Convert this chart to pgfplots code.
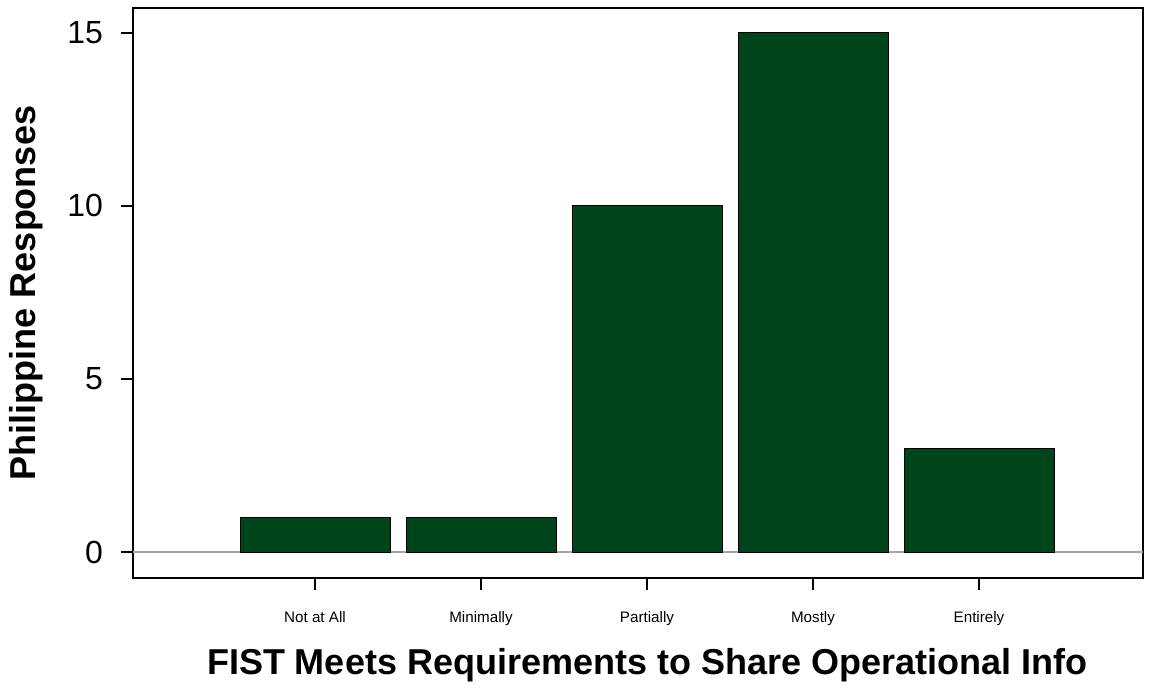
\documentclass[border=0pt]{standalone}
\usepackage{pgfplots}
\pgfplotsset{compat=1.18}
\usepackage{fontspec}
\setmainfont{Liberation Sans}
\definecolor{bargreen}{HTML}{00441B}
\begin{document}
\begin{tikzpicture}
\begin{axis}[
  name=ax,
  width=505pt, height=285pt, scale only axis,
  xmin=-1.0964, xmax=4.988,
  ymin=-0.751, ymax=15.72,
  ybar, bar width=0.9036,
  axis line style={line width=1pt},
  xtick={0,1,2,3,4},
  xticklabels={Not at All,Minimally,Partially,Mostly,Entirely},
  ytick={0,5,10,15},
  xtick pos=lower, ytick pos=left,
  tick align=outside,
  major tick length=6pt,
  tick style={line width=1pt, black},
  /pgf/number format/assume math mode=true,
  x tick label style={font=\fontsize{7.6}{9}\selectfont, yshift=-7pt},
  y tick label style={font=\fontsize{16}{18}\selectfont, xshift=-5.5pt},
  xlabel={FIST Meets Requirements to Share Operational Info},
  ylabel={Philippine Responses},
  xlabel style={font=\fontsize{18}{21}\selectfont\bfseries,
    at={(axis description cs:0.509,-0.170)}, anchor=base},
  ylabel style={font=\fontsize{18}{21}\selectfont\bfseries,
    at={(axis description cs:-0.106,0.5)}, anchor=center},
]
\draw[gray!70, line width=0.6pt] ({rel axis cs:0,0}|-{axis cs:0,0}) -- ({rel axis cs:1,0}|-{axis cs:0,0});
\addplot[fill=bargreen, draw=black, line width=0.5pt] coordinates {
  (0,1) (1,1) (2,10) (3,15) (4,3)
};
\end{axis}
\path ([shift={(-66.5pt,-54.5pt)}]ax.south west) ([shift={(11pt,4pt)}]ax.north east);
\end{tikzpicture}
\end{document}
